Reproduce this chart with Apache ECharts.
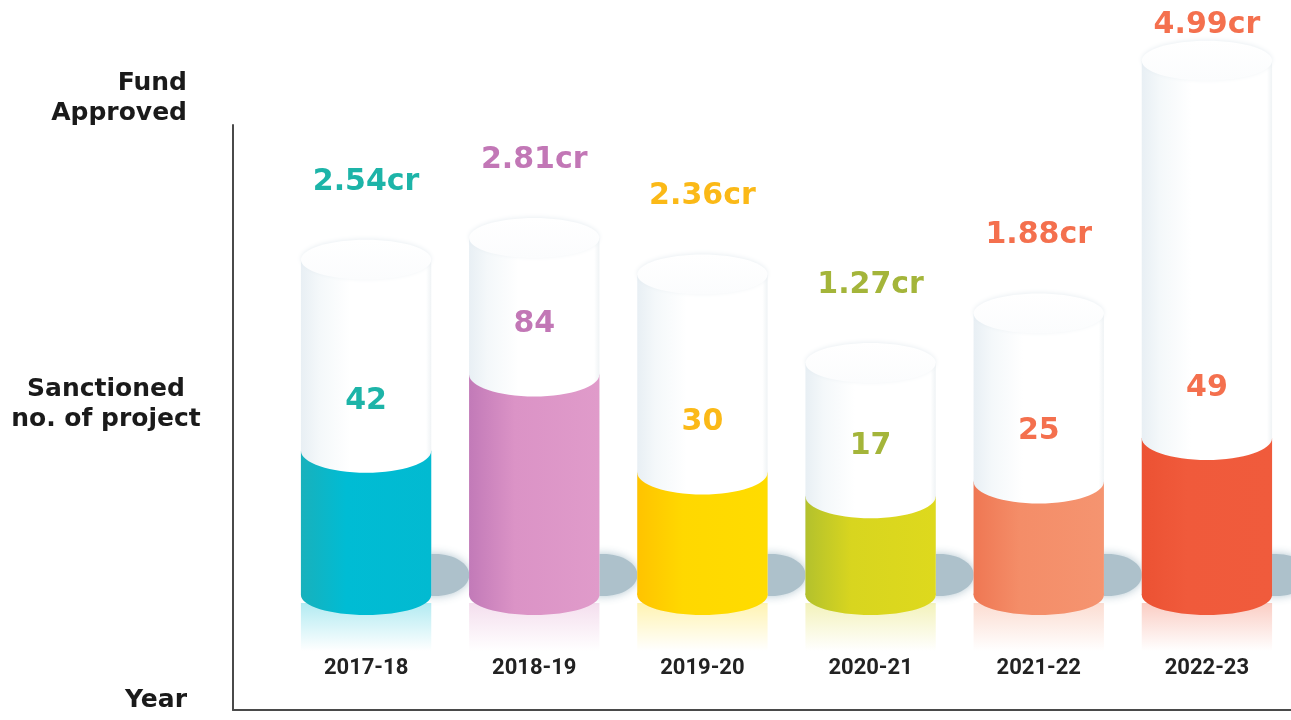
<!DOCTYPE html>
<html>
<head>
<meta charset="utf-8">
<style>
  html, body { margin: 0; padding: 0; background: #ffffff; }
  #chart { width: 1291px; height: 720px; }
</style>
<script src="https://cdn.jsdelivr.net/npm/echarts@6/dist/echarts.min.js"></script>
</head>
<body>
<div id="chart"></div>
<script>
// ---- data ----
const years = ['2017-18', '2018-19', '2019-20', '2020-21', '2021-22', '2022-23'];
const fundCr = [2.54, 2.81, 2.36, 1.27, 1.88, 4.99];
const projects = [42, 84, 30, 17, 25, 49];

// ---- styles ----
const bodyColors = [
  ['#18b1bc', '#00bcd4', '#02bad1'],
  ['#c27ab8', '#db93c6', '#e09bca'],
  ['#ffc300', '#ffd800', '#ffdc00'],
  ['#b3c12d', '#d8d51f', '#ded91d'],
  ['#ef7753', '#f48d68', '#f59470'],
  ['#ec5233', '#f05a3b', '#f05b3c']
];
const labelColors = ['#1db4a8', '#c277b6', '#fbb917', '#a4b53a', '#f4704e', '#f4704e'];

const FUND_MIN = -2.078, FUND_MAX = 5;
const PROJ_MIN = -48.4, PROJ_MAX = 268;

function whiteBody() {
  return new echarts.graphic.LinearGradient(0, 0, 1, 0, [
    { offset: 0, color: '#e8eff4' },
    { offset: 0.14, color: '#f4f8fa' },
    { offset: 0.38, color: '#ffffff' },
    { offset: 0.96, color: '#ffffff' },
    { offset: 1, color: '#eff3f5' }
  ]);
}

function renderFund(params, api) {
  const i = api.value(0), v = api.value(1);
  const top = api.coord([i, v]);
  const base = api.coord([i, FUND_MIN]);
  const cx = top[0], topY = top[1], baseY = base[1];
  const w = api.size([1, 0])[0] * 0.775;
  const x0 = cx - w / 2, ry = 20;
  const labelY = Math.max(topY - 58, 25);
  return {
    type: 'group',
    children: [
      { type: 'ellipse', shape: { cx: x0 + w + 4, cy: baseY - 40, rx: 34, ry: 21 },
        style: { fill: '#adc1cb', shadowBlur: 10, shadowColor: 'rgba(170,192,203,0.9)' } },
      { type: 'rect', shape: { x: x0, y: topY + ry, width: w, height: baseY - ry - topY - ry },
        style: { fill: whiteBody() } },
      { type: 'ellipse', shape: { cx: cx, cy: baseY - ry, rx: w / 2, ry: ry },
        style: { fill: whiteBody() } },
      { type: 'ellipse', shape: { cx: cx, cy: topY + ry, rx: w / 2, ry: ry },
        style: { fill: new echarts.graphic.LinearGradient(0, 0, 0, 1, [
          { offset: 0, color: '#ffffff' }, { offset: 1, color: '#fbfcfd' }]),
          shadowBlur: 4, shadowColor: 'rgba(215,225,232,0.5)', shadowOffsetY: -1 } },
      { type: 'text', style: { text: v.toFixed(2) + 'cr', x: cx, y: labelY,
          align: 'center', verticalAlign: 'middle',
          fontFamily: 'DejaVu Sans', fontWeight: 'bold', fontSize: 30,
          fill: labelColors[i] } }
    ]
  };
}

function renderProj(params, api) {
  const i = api.value(0), v = api.value(1);
  const top = api.coord([i, v]);
  const base = api.coord([i, PROJ_MIN]);
  const cx = top[0], colY = top[1], baseY = base[1];
  const w = api.size([1, 0])[0] * 0.775;
  const x0 = cx - w / 2, ry = 20;
  const c = bodyColors[i];
  const grad = new echarts.graphic.LinearGradient(0, 0, 1, 0, [
    { offset: 0, color: c[0] }, { offset: 0.35, color: c[1] }, { offset: 1, color: c[2] }]);
  return {
    type: 'group',
    children: [
      { type: 'rect', shape: { x: x0, y: baseY - 12, width: w, height: 48 },
        style: { fill: new echarts.graphic.LinearGradient(0, 0, 0, 1, [
          { offset: 0, color: echarts.color.modifyAlpha(c[1], 0.3) },
          { offset: 1, color: echarts.color.modifyAlpha(c[1], 0) }]) } },
      { type: 'rect', shape: { x: x0, y: colY, width: w, height: baseY - ry - colY },
        style: { fill: grad } },
      { type: 'ellipse', shape: { cx: cx, cy: baseY - ry, rx: w / 2, ry: ry },
        style: { fill: grad } },
      { type: 'ellipse', shape: { cx: cx, cy: colY, rx: w / 2, ry: 22 },
        style: { fill: whiteBody() } },
      { type: 'text', style: { text: String(v), x: cx, y: colY - 50,
          align: 'center', verticalAlign: 'middle',
          fontFamily: 'DejaVu Sans', fontWeight: 'bold', fontSize: 30,
          fill: labelColors[i] } }
    ]
  };
}

const chart = echarts.init(document.getElementById('chart'));
chart.setOption({
  backgroundColor: '#ffffff',
  animation: false,
  grid: [
    { left: 282, right: 0, top: 40, bottom: 105 },
    { left: 233, right: 0, top: 125, bottom: 10 }
  ],
  xAxis: [
    { type: 'category', gridIndex: 0, data: years,
      axisLine: { show: false }, axisTick: { show: false }, splitLine: { show: false },
      axisLabel: { margin: 42, color: '#222222', fontFamily: 'Roboto', fontWeight: 'bold', fontSize: 22 } },
    { type: 'value', gridIndex: 1, min: 0, max: 1,
      axisLine: { show: true, onZero: false, lineStyle: { color: '#4a4a4a', width: 2 } },
      axisTick: { show: false }, axisLabel: { show: false }, splitLine: { show: false } }
  ],
  yAxis: [
    { type: 'value', gridIndex: 0, min: FUND_MIN, max: FUND_MAX, show: false },
    { type: 'value', gridIndex: 0, min: PROJ_MIN, max: PROJ_MAX, show: false },
    { type: 'value', gridIndex: 1, min: 0, max: 1,
      axisLine: { show: true, onZero: false, lineStyle: { color: '#4a4a4a', width: 2 } },
      axisTick: { show: false }, axisLabel: { show: false }, splitLine: { show: false } }
  ],
  graphic: [
    { type: 'text', x: 187, y: 68,
      style: { text: 'Fund\nApproved', align: 'right', verticalAlign: 'top',
        fontFamily: 'DejaVu Sans', fontWeight: 'bold', fontSize: 25, lineHeight: 30, fill: '#1a1a1a' } },
    { type: 'text', x: 106, y: 374,
      style: { text: 'Sanctioned\nno. of project', align: 'center', verticalAlign: 'top',
        fontFamily: 'DejaVu Sans', fontWeight: 'bold', fontSize: 25, lineHeight: 30, fill: '#1a1a1a' } },
    { type: 'text', x: 187, y: 685,
      style: { text: 'Year', align: 'right', verticalAlign: 'top',
        fontFamily: 'DejaVu Sans', fontWeight: 'bold', fontSize: 25, lineHeight: 30, fill: '#1a1a1a' } }
  ],
  series: [
    { type: 'custom', xAxisIndex: 0, yAxisIndex: 0, renderItem: renderFund, clip: false,
      encode: { x: 0, y: 1 }, data: fundCr.map((v, i) => [i, v]), z: 2 },
    { type: 'custom', xAxisIndex: 0, yAxisIndex: 1, renderItem: renderProj, clip: false,
      encode: { x: 0, y: 1 }, data: projects.map((v, i) => [i, v]), z: 3 }
  ]
});
</script>
</body>
</html>
